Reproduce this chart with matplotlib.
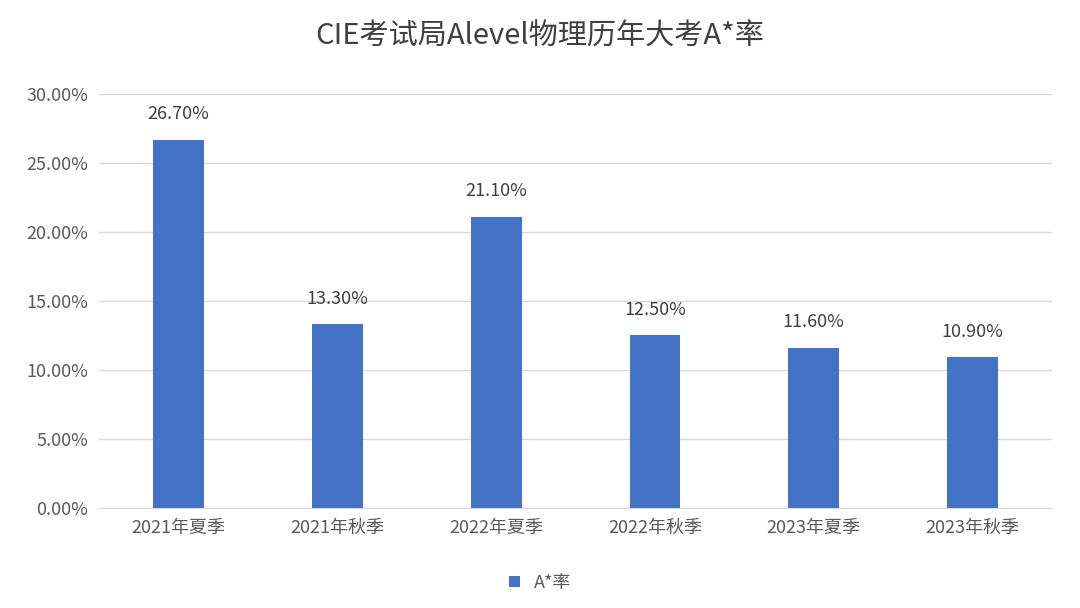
import matplotlib
matplotlib.use("Agg")
import matplotlib.pyplot as plt
from matplotlib.ticker import FuncFormatter, MultipleLocator

plt.rcParams['font.family'] = ['Noto Sans CJK SC', 'DejaVu Sans']

categories = ["2021年夏季", "2021年秋季", "2022年夏季", "2022年秋季", "2023年夏季", "2023年秋季"]
values = [26.70, 13.30, 21.10, 12.50, 11.60, 10.90]
series_name = "A*率"
title = "CIE考试局Alevel物理历年大考A*率"

fig = plt.figure(figsize=(10.8, 6.08), dpi=100)
ax = fig.add_axes([0.092, 0.165, 0.882, 0.68])
color = "#4472C4"
x = range(len(categories))
bars = ax.bar(x, values, width=0.32, color=color, label=series_name, zorder=3)
for xi, v in zip(x, values):
    ax.text(xi, v + 1.2, f"{v:.2f}%", ha="center", va="bottom", fontsize=13, color="#404040")
ax.set_ylim(0, 30)
ax.set_xlim(-0.5, len(categories) - 0.5)
ax.yaxis.set_major_locator(MultipleLocator(5))
ax.yaxis.set_major_formatter(FuncFormatter(lambda v, p: f"{v:.2f}%"))
ax.grid(axis="y", color="#D9D9D9", linewidth=1, zorder=0)
for s in ["top", "right", "left"]:
    ax.spines[s].set_visible(False)
ax.spines["bottom"].set_color("#D9D9D9")
ax.tick_params(axis="both", length=0, labelsize=13, labelcolor="#595959", pad=8)
ax.set_xticks(list(x))
ax.set_xticklabels(categories)
fig.suptitle(title, y=0.965, fontsize=21, color="#404040")
fig.legend(loc="lower center", bbox_to_anchor=(0.5, 0.0), frameon=False, fontsize=13,
           handlelength=0.6, handleheight=0.6, labelcolor="#595959")
fig.savefig("out.png", dpi=100, facecolor="white")
